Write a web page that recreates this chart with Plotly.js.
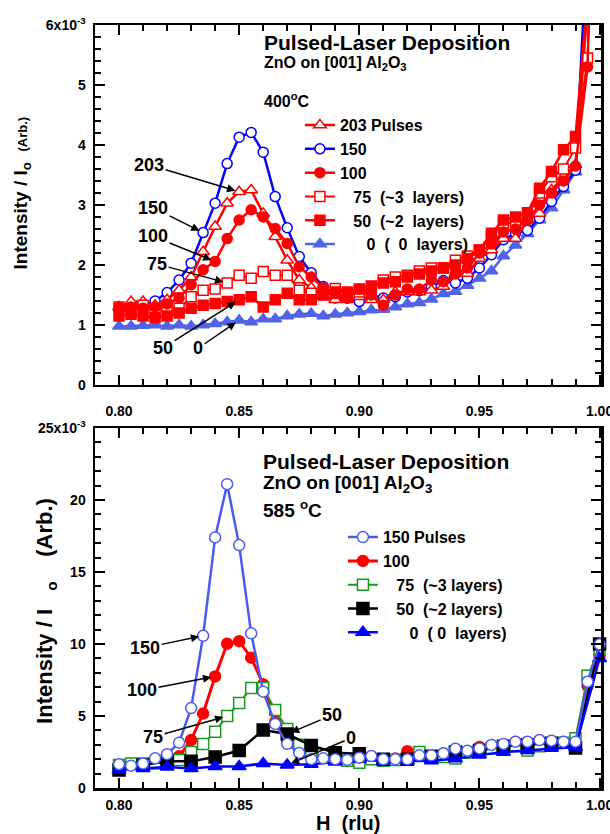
<!DOCTYPE html>
<html>
<head>
<meta charset="utf-8">
<script src="https://cdn.plot.ly/plotly-3.0.1.min.js"></script>
<style>html,body{margin:0;padding:0;background:#fff;}#chart{width:610px;height:834px;}</style>
</head>
<body>
<div id="chart"></div>
<script>
// ---------- DATA (intensity in units of 1e-3) ----------
// Top panel: 400 C, H grid 0.800 ... 1.000 (step 0.005)
var H = [0.800,0.805,0.810,0.815,0.820,0.825,0.830,0.835,0.840,0.845,0.850,0.855,0.860,0.865,0.870,0.875,0.880,0.885,0.890,0.895,0.900,0.905,0.910,0.915,0.920,0.925,0.930,0.935,0.940,0.945,0.950,0.955,0.960,0.965,0.970,0.975,0.980,0.985,0.990,0.995,1.000];
var t203 = [1.30,1.39,1.39,1.33,1.42,1.58,1.80,2.22,2.64,3.03,3.22,3.25,2.86,2.47,2.08,1.75,1.62,1.47,1.42,1.42,1.47,1.42,1.42,1.55,1.55,1.55,1.58,1.64,1.86,1.86,2.11,2.25,2.44,2.44,2.75,2.86,3.25,3.47,3.67,6.30,12.0];
var t150 = [1.25,1.30,1.33,1.40,1.54,1.75,2.03,2.54,3.03,3.69,4.13,4.21,3.88,3.14,2.62,2.14,1.87,1.64,1.45,1.45,1.39,1.50,1.45,1.47,1.55,1.57,1.64,1.74,1.70,1.78,1.95,2.17,2.42,2.53,2.58,2.78,3.06,3.31,3.58,7.50,12.0];
var t100 = [1.30,1.30,1.28,1.30,1.35,1.45,1.67,1.92,2.06,2.44,2.75,2.92,2.80,2.61,2.36,1.97,1.80,1.62,1.52,1.45,1.60,1.50,1.33,1.50,1.60,1.60,1.75,1.72,1.85,1.95,2.20,2.35,2.55,2.60,2.75,3.00,3.20,3.40,3.65,5.30,12.0];
var t75  = [1.30,1.28,1.33,1.25,1.30,1.28,1.47,1.58,1.60,1.70,1.83,1.78,1.89,1.83,1.83,1.58,1.53,1.55,1.61,1.53,1.55,1.60,1.75,1.80,1.83,1.90,1.95,1.95,2.08,2.15,2.25,2.47,2.70,2.70,2.80,3.20,3.47,3.60,3.95,5.45,12.0];
var t50  = [1.15,1.18,1.15,1.12,1.15,1.20,1.28,1.33,1.36,1.39,1.42,1.47,1.30,1.42,1.53,1.42,1.42,1.50,1.55,1.55,1.60,1.65,1.70,1.72,1.80,1.85,1.90,1.95,2.00,2.11,2.25,2.53,2.75,2.80,2.87,3.28,3.56,3.92,4.14,6.50,12.0];
var t0   = [0.98,0.98,0.99,1.00,0.98,1.00,0.98,1.00,1.02,1.05,1.08,1.05,1.10,1.10,1.15,1.18,1.19,1.15,1.18,1.20,1.22,1.25,1.26,1.30,1.35,1.37,1.43,1.52,1.56,1.66,1.78,1.90,2.15,2.33,2.52,2.75,2.95,3.25,3.55,7.00,12.0];

// Bottom panel: 585 C
var H5 = [0.800,0.805,0.810,0.815,0.820,0.825,0.830,0.835,0.840,0.845,0.850,0.855,0.860,0.865,0.870,0.875,0.880,0.885,0.890,0.895,0.900,0.905,0.910,0.915,0.920,0.925,0.930,0.935,0.940,0.945,0.950,0.955,0.960,0.965,0.970,0.975,0.980,0.985,0.990,0.995,1.000];
var b150 = [1.65,1.55,1.70,2.06,2.35,3.15,5.55,10.57,17.40,21.10,16.87,10.74,6.69,4.45,3.07,2.43,2.00,2.06,2.00,1.95,2.10,2.22,1.99,1.99,1.99,2.27,2.27,2.41,2.73,2.59,2.75,2.99,3.06,3.22,3.22,3.33,3.29,3.22,3.22,7.38,9.98];
var b100 = [1.60,1.60,1.65,1.75,1.90,2.20,3.33,5.17,7.75,10.02,10.20,9.05,7.20,4.60,3.30,2.60,2.30,2.10,2.00,1.95,2.00,2.15,2.00,2.05,2.55,2.25,2.20,2.40,2.70,2.55,2.85,2.95,3.00,3.20,3.20,3.30,3.25,3.20,3.20,7.10,9.20];
var b75  = [1.60,1.71,1.71,1.70,1.80,1.95,2.50,3.05,3.91,5.00,5.90,6.95,6.95,5.42,4.10,3.00,2.60,2.35,2.10,1.90,1.75,2.00,1.90,1.95,2.00,2.50,2.10,2.15,2.05,2.45,2.55,2.75,2.75,2.90,2.60,2.90,3.00,3.15,3.45,7.80,9.60];
var H10 = [0.80,0.81,0.82,0.83,0.84,0.85,0.86,0.87,0.88,0.89,0.90,0.91,0.92,0.93,0.94,0.95,0.96,0.97,0.98,0.99,1.00];
var b50  = [1.25,1.60,1.85,1.85,2.15,2.60,4.03,3.75,2.95,2.45,2.38,2.00,2.00,2.20,2.50,2.60,2.90,3.00,3.10,2.78,10.0];
var b0   = [1.25,1.35,1.45,1.35,1.50,1.50,1.70,1.60,1.65,1.80,2.00,1.84,1.87,1.90,2.03,2.30,2.49,2.60,2.76,2.85,9.00];

var topNames = ['203 Pulses','150','100','\u00a0\u00a0\u00a075\u00a0\u00a0(~3\u00a0\u00a0layers)','\u00a0\u00a0\u00a050\u00a0\u00a0(~2\u00a0\u00a0layers)','\u00a0\u00a0\u00a0\u00a0\u00a0\u00a00\u00a0\u00a0(\u00a0\u00a00\u00a0\u00a0layers)'];
var botNames = ['150 Pulses','100','\u00a0\u00a0\u00a075\u00a0\u00a0(~3 layers)','\u00a0\u00a0\u00a050\u00a0\u00a0(~2 layers)','\u00a0\u00a0\u00a0\u00a0\u00a0\u00a00\u00a0\u00a0(\u00a00\u00a0\u00a0layers)'];
var xTicks = [0.80,0.85,0.90,0.95,1.00];
var xTickText = ['0.80','0.85','0.90','0.95','1.00'];
var yTopTicks = [0,1,2,3,4,5,6];
var yTopText = ['0','1','2','3','4','5','6x10<sup>-3</sup>'];
var yBotTicks = [0,5,10,15,20,25];
var yBotText = ['0','5','10','15','20','25x10<sup>-3</sup>'];

// ---------- STYLE ----------
var RED = '#ff0000', BLUE = '#0000ff', LBLUE = '#5163e6', BLUE150 = '#4a5cf0', GREEN = '#1a9a1a';
function tr(x, y, name, xa, ya, leg, rank, lc, lw, sym, ms, fill, mlc, clip) {
  return {x: x, y: y, name: name, xaxis: xa, yaxis: ya, legend: leg, legendrank: rank,
    type: 'scatter', mode: 'lines+markers', cliponaxis: clip,
    line: {color: lc, width: lw},
    marker: {symbol: sym, size: ms, color: fill, line: {color: mlc, width: 1.5}}};
}
var data = [
  tr(H, t0,   topNames[5], 'x', 'y', 'legend', 6, LBLUE, 2.5, 'triangle-up', 11, LBLUE, LBLUE, true),
  tr(H, t150, topNames[1], 'x', 'y', 'legend', 2, BLUE, 2.5, 'circle', 10, '#ffffff', BLUE, true),
  tr(H, t203, topNames[0], 'x', 'y', 'legend', 1, RED, 2.5, 'triangle-up', 11, '#ffffff', RED, true),
  tr(H, t75,  topNames[3], 'x', 'y', 'legend', 4, RED, 2, 'square', 10, '#ffffff', RED, true),
  tr(H, t100, topNames[2], 'x', 'y', 'legend', 3, RED, 2.5, 'circle', 10, RED, RED, true),
  tr(H, t50,  topNames[4], 'x', 'y', 'legend', 5, RED, 2.5, 'square', 10, RED, RED, true),

  tr(H5, b100, botNames[1], 'x2', 'y2', 'legend2', 2, RED, 3, 'circle', 11, RED, RED, false),
  tr(H5, b75,  botNames[2], 'x2', 'y2', 'legend2', 3, GREEN, 2, 'square', 11, '#ffffff', GREEN, false),
  tr(H10, b50, botNames[3], 'x2', 'y2', 'legend2', 4, '#000000', 2.5, 'square', 12, '#000000', '#000000', false),
  tr(H10, b0,  botNames[4], 'x2', 'y2', 'legend2', 5, BLUE, 2.5, 'triangle-up', 12, BLUE, BLUE, false),
  tr(H5, b150, botNames[0], 'x2', 'y2', 'legend2', 1, BLUE150, 2.5, 'circle', 11, '#ffffff', BLUE150, false)
];

function xax(anchor) {
  return {anchor: anchor, domain: [0, 1], range: [0.79, 1.0006], tickmode: 'array', tickvals: xTicks, ticktext: xTickText,
    ticklabeloverflow: 'allow',
    ticks: 'inside', ticklen: 10, tickwidth: 2, tickcolor: '#000',
    minor: {tickmode: 'linear', tick0: 0.8, dtick: 0.01, ticks: 'inside', ticklen: 6, tickwidth: 2, tickcolor: '#000', showgrid: false},
    showline: true, linewidth: 2.5, linecolor: '#000', mirror: 'ticks', showgrid: false, zeroline: false,
    tickfont: {size: 14, color: '#000'}};
}
function yax(anchor, dom, top, tv, tt, minorD) {
  return {anchor: anchor, domain: dom, range: [0, top], tickmode: 'array', tickvals: tv, ticktext: tt,
    ticklabeloverflow: 'allow',
    ticks: 'inside', ticklen: 10, tickwidth: 2, tickcolor: '#000',
    minor: {tickmode: 'linear', tick0: 0, dtick: minorD, ticks: 'inside', ticklen: 6, tickwidth: 2, tickcolor: '#000', showgrid: false},
    showline: true, linewidth: 2.5, linecolor: '#000', mirror: 'ticks', showgrid: false, zeroline: false,
    tickfont: {size: 14, color: '#000'}, ticklabelstandoff: 4};
}
var xa1 = xax('y'); xa1.ticklabelstandoff = 12;
var xa2 = xax('y2'); xa2.ticklabelstandoff = 3;

function arrowNote(x, y, ax, ay, text, xr, yr) {
  return {x: x, y: y, ax: ax, ay: ay, text: text, xref: xr, yref: yr, showarrow: true,
    arrowhead: 2, arrowsize: 1.1, arrowwidth: 1.5, arrowcolor: '#000', standoff: 4,
    font: {size: 18, color: '#000'}};
}
function txt(x, y, text, size, extra) {
  var a = {x: x, y: y, xref: 'paper', yref: 'paper', xanchor: 'left', yanchor: 'middle', showarrow: false,
    text: text, font: {size: size, color: '#000'}};
  if (extra) for (var k in extra) a[k] = extra[k];
  return a;
}
var annotations = [
  txt(0.33, 0.977, 'Pulsed-Laser Deposition', 21),
  txt(0.33, 0.950, 'ZnO on [001] Al<sub>2</sub>O<sub>3</sub>', 16),
  txt(0.33, 0.902, '400<sup>o</sup>C', 16),
  txt(0.328, 0.428, 'Pulsed-Laser Deposition', 21),
  txt(0.328, 0.399, 'ZnO on [001] Al<sub>2</sub>O<sub>3</sub>', 19),
  txt(0.328, 0.366, '585 <sup>o</sup>C', 19),
  txt(-0.145, 0.78, 'Intensity / I<sub>o</sub>\u00a0\u00a0<span style="font-size:13px">(Arb.)</span>', 19, {xanchor: 'center', textangle: -90}),
  txt(-0.097, 0.232, 'Intensity / I\u00a0\u00a0\u00a0<sub>o</sub>\u00a0\u00a0\u00a0\u00a0(Arb.)', 22, {xanchor: 'center', textangle: -90}),
  txt(0.5, -0.046, 'H\u00a0\u00a0(rlu)', 20, {xanchor: 'center'}),

  arrowNote(H[10], t203[10], -90, -27, '203', 'x', 'y'),
  arrowNote(H[7], t150[7], -50, -25, '150', 'x', 'y'),
  arrowNote(H[8], t100[8], -62, -25, '100', 'x', 'y'),
  arrowNote(H[9], t75[9], -70, -19, '75', 'x', 'y'),
  arrowNote(H[10], t50[10], -76, 48, '50', 'x', 'y'),
  arrowNote(H[10], t0[10], -41, 28, '0', 'x', 'y'),

  arrowNote(H5[7], b150[7], -58, 12, '150', 'x2', 'y2'),
  arrowNote(H5[8], b100[8], -73, 14, '100', 'x2', 'y2'),
  arrowNote(H5[9], b75[9], -74, 21, '75', 'x2', 'y2'),
  arrowNote(H10[7], b50[7], 45, -19, '50', 'x2', 'y2'),
  arrowNote(H10[7], b0[7], 64, -27, '0', 'x2', 'y2')
];

var layout = {
  width: 610, height: 834,
  margin: {l: 95, r: 9, t: 25, b: 46},
  paper_bgcolor: '#fff', plot_bgcolor: '#fff',
  font: {family: 'Liberation Sans, Arial, Helvetica, sans-serif', weight: 'bold', color: '#000', size: 14},
  showlegend: true,
  xaxis: xa1,
  yaxis: yax('x', [0.5282, 1], 6, yTopTicks, yTopText, 0.2),
  xaxis2: xa2,
  yaxis2: yax('x2', [0, 0.4718], 25, yBotTicks, yBotText, 1),
  legend: {x: 0.405, xanchor: 'left', y: 0.891, yanchor: 'top', bgcolor: 'rgba(0,0,0,0)',
    font: {size: 16, color: '#000'}, tracegroupgap: 0, itemwidth: 30},
  legend2: {x: 0.49, xanchor: 'left', y: 0.351, yanchor: 'top', bgcolor: 'rgba(0,0,0,0)',
    font: {size: 16, color: '#000'}, tracegroupgap: 0, itemwidth: 30},
  annotations: annotations
};

Plotly.newPlot('chart', data, layout, {staticPlot: true, displayModeBar: false});
</script>
</body>
</html>
